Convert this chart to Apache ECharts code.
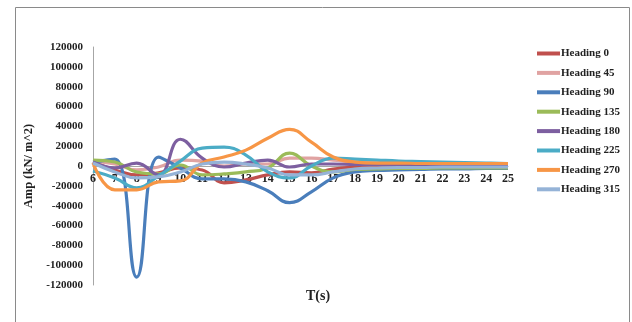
<!DOCTYPE html>
<html>
<head>
<meta charset="utf-8">
<script src="https://cdn.jsdelivr.net/npm/echarts@6/dist/echarts.min.js"></script>
<style>
  html, body { margin: 0; padding: 0; background: #fff; }
  #chart { width: 632px; height: 322px; }
</style>
</head>
<body>
<div id="chart"></div>
<script>
// Wave period (s)
const periods = ['6','7','8','9','10','11','12','13','14','15','16','17','18','19','20','21','22','23','24','25'];

// Pressure amplitude (kN/m^2) per wave heading
const heading0   = [4000, -4000, -9000, -7000, -2000, -4000, -17000, -14000, -9000, -6000, -7000, -3000, -1000, 0, 0, 0, 0, 0, 0, 0];
const heading45  = [5000, 2000, -4000, -1000, 6000, 5000, 0, 2000, 2000, 8000, 8000, 6000, 4000, 3000, 2500, 2000, 1500, 1500, 1000, 1000];
const heading90  = [4000, 7000, -112000, 9000, -2000, -13000, -13000, -16000, -25000, -37000, -26000, -12000, -6000, -4500, -4000, -3500, -3000, -3000, -2500, -2500];
const heading135 = [6000, 4000, -6000, -8000, 1000, -9000, -8000, -6000, -2000, 13000, 0, -6000, -3500, -3000, -2500, -2500, -2000, -2000, -2000, -2000];
const heading180 = [4000, -2000, 3000, -9000, 27000, 8000, -1000, 3000, 6000, -1000, 2000, 2000, 1500, 1500, 1000, 1000, 1000, 1000, 1000, 1000];
const heading225 = [-5000, -12000, -22000, -10000, 5000, 18000, 19000, 11000, -6000, -12000, 0, 8000, 7000, 6000, 5000, 4500, 4000, 3500, 3000, 2500];
const heading270 = [3000, -24000, -24000, -16000, -15000, 3000, 9000, 16000, 28000, 37000, 24000, 9000, 4000, 3000, 3000, 2500, 2500, 2500, 2500, 2500];
const heading315 = [3000, -6000, -12000, -11000, -6000, 2000, 4000, 2000, -2000, -9000, -9000, -6000, -3000, -2000, -1500, -1500, -1000, -1000, -1000, -1000];

// Y-axis ticks
const yMin = -120000, yMax = 120000, yStep = 20000;

const seriesDefs = [
  { name: 'Heading 0',   data: heading0,   color: '#c0504d' },
  { name: 'Heading 45',  data: heading45,  color: '#e0a3a2' },
  { name: 'Heading 90',  data: heading90,  color: '#4a7ebb' },
  { name: 'Heading 135', data: heading135, color: '#9bbb59' },
  { name: 'Heading 180', data: heading180, color: '#7d5fa0' },
  { name: 'Heading 225', data: heading225, color: '#4bacc6' },
  { name: 'Heading 270', data: heading270, color: '#f79646' },
  { name: 'Heading 315', data: heading315, color: '#95b3d7' }
];

const fontBase = { fontFamily: '"Liberation Serif", "Times New Roman", serif', fontWeight: 'bold', color: '#222' };

const gridTop = 47, gridBottom = 37, chartH = 322;
// distance from the plot bottom up to the zero line, so the category axis sits on y = 0
const zeroOffset = (chartH - gridTop - gridBottom) * (0 - yMin) / (yMax - yMin);

const chart = echarts.init(document.getElementById('chart'), null, { renderer: 'canvas' });
chart.setOption({
  animation: false,
  backgroundColor: '#fff',
  grid: { left: 93, right: 124, top: gridTop, bottom: gridBottom, containLabel: false },
  graphic: [
    { type: 'rect', shape: { x: 15.5, y: 7.5, width: 614, height: 330 },
      style: { fill: 'none', stroke: '#8a8a8a', lineWidth: 1 }, silent: true },
    { type: 'text', left: 306, top: 289,
      style: { text: 'T(s)', fontSize: 14, fill: '#222', fontFamily: fontBase.fontFamily, fontWeight: 'bold' } }
  ],
  legend: {
    orient: 'vertical',
    left: 532, top: 43,
    itemWidth: 23, itemHeight: 4, itemGap: 8.4,
    icon: 'rect',
    textStyle: Object.assign({ fontSize: 11, padding: [0, 0, 0, -4] }, fontBase),
    data: seriesDefs.map(s => s.name)
  },
  xAxis: {
    type: 'category',
    data: periods,
    boundaryGap: false,
    offset: -zeroOffset,
    axisLine: { onZero: false, lineStyle: { color: '#a6a6a6', width: 1 } },
    axisTick: { show: false },
    axisLabel: Object.assign({ fontSize: 12, margin: 7, interval: 0 }, fontBase),
    splitLine: { show: false }
  },
  yAxis: {
    type: 'value',
    min: yMin, max: yMax, interval: yStep,
    name: 'Amp (kN/ m^2)',
    nameLocation: 'middle',
    nameGap: 50,
    nameTextStyle: Object.assign({ fontSize: 12.5 }, fontBase),
    axisLine: { show: true, lineStyle: { color: '#a6a6a6', width: 1 } },
    axisTick: { show: false },
    axisLabel: Object.assign({ fontSize: 11, margin: 10, formatter: v => String(v) }, fontBase),
    splitLine: { show: false }
  },
  series: seriesDefs.map(s => ({
    name: s.name,
    type: 'line',
    data: s.data,
    smooth: 0.45,
    symbol: 'none',
    lineStyle: { width: 3.2, color: s.color },
    itemStyle: { color: s.color }
  }))
});
</script>
</body>
</html>
